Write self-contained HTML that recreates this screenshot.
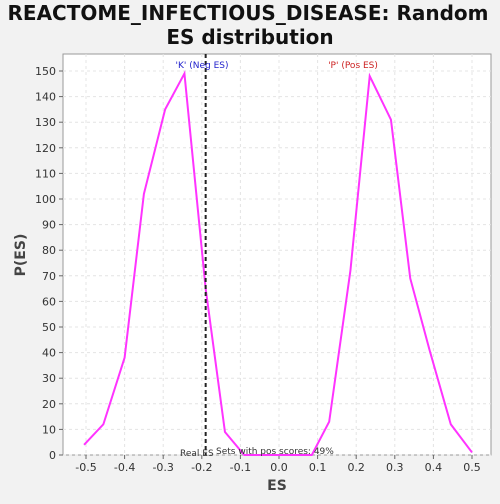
<!DOCTYPE html>
<html><head><meta charset="utf-8"><style>
body{margin:0;background:#f2f2f2;width:500px;height:500px;overflow:hidden;font-family:"DejaVu Sans","Liberation Sans",sans-serif}
svg text{font-family:"DejaVu Sans","Liberation Sans",sans-serif}
</style></head><body>
<svg id="c" width="500" height="500" xmlns="http://www.w3.org/2000/svg">
<text x="248" y="20" text-anchor="middle" font-size="20" font-weight="bold" fill="#111">REACTOME_INFECTIOUS_DISEASE: Random</text>
<text x="250" y="44" text-anchor="middle" font-size="20" font-weight="bold" fill="#111">ES distribution</text>
<rect x="63" y="54" width="428" height="401" fill="#fff" stroke="#999"/>
<g id="grid"></g><g id="ticks"></g>
<text x="277" y="490" text-anchor="middle" font-size="14" font-weight="bold" fill="#444">ES</text>
<text transform="translate(25,255) rotate(-90)" text-anchor="middle" font-size="14" font-weight="bold" fill="#444">P(ES)</text>
<polyline id="line" fill="none" stroke="#ff33ff" stroke-width="2"/>
<line id="real" stroke="#222" stroke-width="2" stroke-dasharray="4,3"/>
<text x="202" y="68" text-anchor="middle" font-size="9" fill="#2222cc">'K' (Neg ES)</text>
<text x="353" y="68" text-anchor="middle" font-size="9" fill="#cc2222">'P' (Pos ES)</text>
<text x="180" y="456" font-size="9" fill="#333">Real ES</text>
<text x="216" y="454" font-size="9" fill="#333">Sets with pos scores: 49%</text>
</svg>
<script>
const esX=[-0.505,-0.455,-0.4,-0.35,-0.295,-0.245,-0.19,-0.14,-0.09,-0.04,0.0,0.04,0.085,0.13,0.185,0.235,0.29,0.34,0.39,0.445,0.5];
const pES=[4,12,38,102,135,149,65,9,0,0,0,0,0,13,72,148,131,69,41,12,1];
const xTicks=[-0.5,-0.4,-0.3,-0.2,-0.1,0.0,0.1,0.2,0.3,0.4,0.5];
const yTicks=[0,10,20,30,40,50,60,70,80,90,100,110,120,130,140,150];
const realES=[-0.19];
const sx=v=>279+v*386, sy=v=>455-v*2.56;
const ns="http://www.w3.org/2000/svg";
const g=document.getElementById('grid'),t=document.getElementById('ticks');
function mk(p,tag,a){const e=document.createElementNS(ns,tag);for(const k in a)e.setAttribute(k,a[k]);p.appendChild(e);return e;}
xTicks.forEach(v=>{const x=sx(v);
const l=mk(g,'line',{x1:x,x2:x,y1:54,y2:455,stroke:'#e4e4e4','stroke-dasharray':'3,3'});


mk(t,'line',{x1:x,x2:x,y1:455,y2:459,stroke:'#666'});
const s=mk(t,'text',{x:x,y:471,'text-anchor':'middle','font-size':11,fill:'#333'});s.textContent=v.toFixed(1);

});
yTicks.forEach(v=>{const y=sy(v);
const l=mk(g,'line',{x1:63,x2:491,y1:y,y2:y,stroke:'#e4e4e4','stroke-dasharray':'3,3'});


mk(t,'line',{x1:59,x2:63,y1:y,y2:y,stroke:'#666'});
const s=mk(t,'text',{x:56,y:y+4,'text-anchor':'end','font-size':11,fill:'#333'});s.textContent=v;

});
document.getElementById('line').setAttribute('points',esX.map((x,i)=>sx(x)+','+sy(pES[i])).join(' '));
const r=document.getElementById('real');const rx=sx(realES[0]);
r.setAttribute('x1',rx);r.setAttribute('x2',rx);r.setAttribute('y1',54);r.setAttribute('y2',455);
</script>
</body></html>
